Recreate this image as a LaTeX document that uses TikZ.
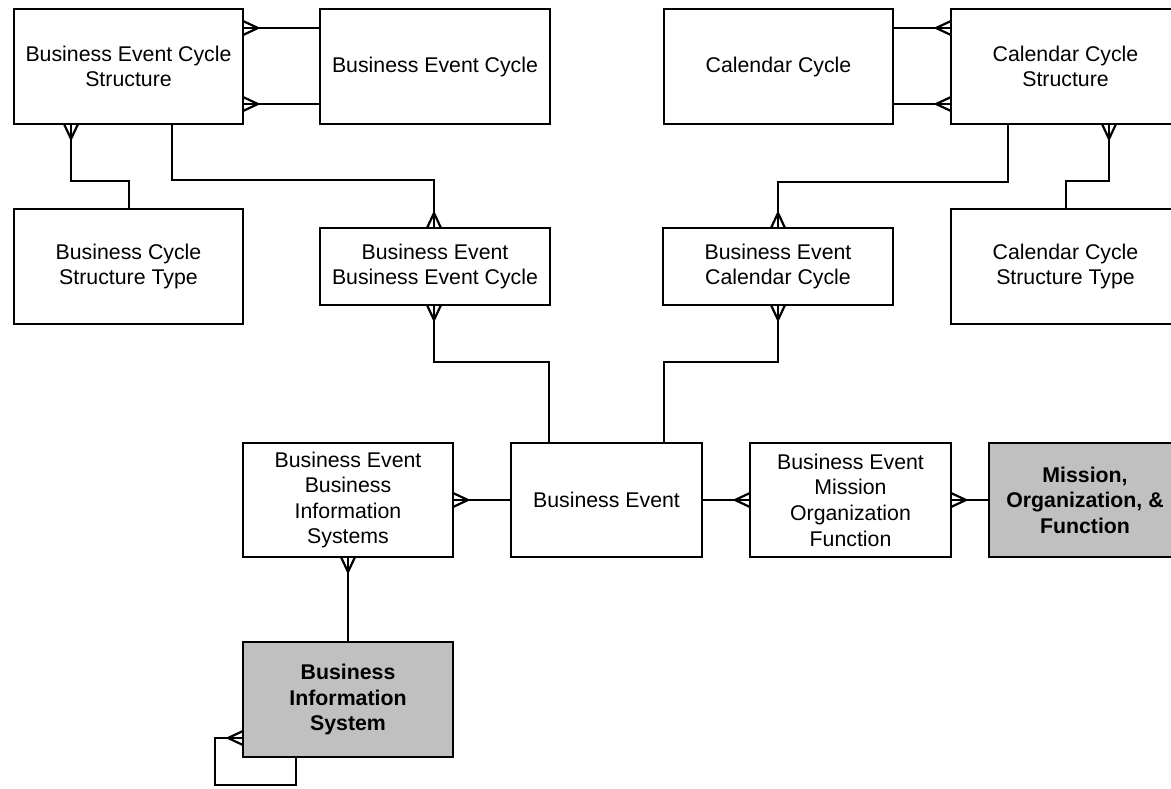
\documentclass[tikz,border=0pt]{standalone}
\usepackage{fontspec}
\setmainfont{Liberation Sans}
\usetikzlibrary{calc}

\definecolor{keyfill}{RGB}{192,192,192}

\tikzset{
  entity/.style={draw=black, line width=2.4pt, fill=white, outer sep=0pt,
    inner sep=2pt, align=center, font=\fontsize{21.3}{25.6}\selectfont},
  keyentity/.style={entity, fill=keyfill, font=\fontsize{21.3}{25.6}\selectfont\bfseries},
  conn/.style={draw=black, line width=2.4pt, line cap=rect},
  crowline/.style={draw=black, line width=2.2pt, line join=miter}
}

% crow's foot: #1 point on the entity edge, #2 direction pointing away from the entity
\newcommand\crowfoot[2]{%
  \draw[crowline, shift={#1}, rotate=#2] (0,7) -- (15,0) -- (0,-7);}

\begin{document}
\begin{tikzpicture}[x=1pt, y=-1pt]
\useasboundingbox (0,0) rectangle (1171,788);
\clip (0,0) rectangle (1171,788);

% entities
\node[entity, minimum width=229pt, minimum height=115pt] (becs) at (128.5,66.5)
  {Business Event Cycle\\Structure};
\node[entity, minimum width=230pt, minimum height=115pt] (bec) at (435,66.5)
  {Business Event Cycle};
\node[entity, minimum width=229pt, minimum height=115pt] (cal) at (778.5,66.5)
  {Calendar Cycle};
\node[entity, minimum width=229pt, minimum height=115pt] (ccs) at (1065.5,66.5)
  {Calendar Cycle\\Structure};
\node[entity, minimum width=229pt, minimum height=115pt] (bcst) at (128.5,266.5)
  {Business Cycle\\Structure Type};
\node[entity, minimum width=230pt, minimum height=77pt] (bebec) at (435,266.5)
  {Business Event\\Business Event Cycle};
\node[entity, minimum width=230pt, minimum height=77pt] (becc) at (778,266.5)
  {Business Event\\Calendar Cycle};
\node[entity, minimum width=229pt, minimum height=115pt] (ccst) at (1065.5,266.5)
  {Calendar Cycle\\Structure Type};
\node[entity, minimum width=210pt, minimum height=114pt] (bebis) at (348,500)
  {Business Event\\Business\\Information\\Systems};
\node[entity, minimum width=191pt, minimum height=114pt] (be) at (606.5,500)
  {Business Event};
\node[entity, minimum width=201pt, minimum height=114pt] (bemof) at (850.5,500)
  {Business Event\\Mission\\Organization\\Function};
\node[keyentity, minimum width=192pt, minimum height=114pt] (mof) at (1085,500)
  {Mission,\\Organization, \&\\Function};
\node[keyentity, minimum width=210pt, minimum height=115pt] (bis) at (348,699.5)
  {Business\\Information\\System};

% relationships
\draw[conn] (becs.east |- 0,28) -- (bec.west |- 0,28);
\crowfoot{(becs.east |- 0,28)}{0}
\draw[conn] (becs.east |- 0,104) -- (bec.west |- 0,104);
\crowfoot{(becs.east |- 0,104)}{0}

\draw[conn] (cal.east |- 0,28) -- (ccs.west |- 0,28);
\crowfoot{(ccs.west |- 0,28)}{180}
\draw[conn] (cal.east |- 0,104) -- (ccs.west |- 0,104);
\crowfoot{(ccs.west |- 0,104)}{180}

\draw[conn] (becs.south -| 71,0) |- (129,181) -- (bcst.north -| 129,0);
\crowfoot{(becs.south -| 71,0)}{-90}

\draw[conn] (becs.south -| 172,0) |- (434,180) -- (bebec.north -| 434,0);
\crowfoot{(bebec.north -| 434,0)}{90}

\draw[conn] (ccs.south -| 1008,0) |- (778,182) -- (becc.north -| 778,0);
\crowfoot{(becc.north -| 778,0)}{90}

\draw[conn] (ccs.south -| 1109,0) |- (1066,181) -- (ccst.north -| 1066,0);
\crowfoot{(ccs.south -| 1109,0)}{-90}

\draw[conn] (bebec.south -| 434,0) |- (549,362) -- (be.north -| 549,0);
\crowfoot{(bebec.south -| 434,0)}{-90}

\draw[conn] (becc.south -| 778,0) |- (664,362) -- (be.north -| 664,0);
\crowfoot{(becc.south -| 778,0)}{-90}

\draw[conn] (bebis.east) -- (be.west);
\crowfoot{(bebis.east)}{0}

\draw[conn] (be.east) -- (bemof.west);
\crowfoot{(bemof.west)}{180}

\draw[conn] (bemof.east) -- (mof.west);
\crowfoot{(bemof.east)}{0}

\draw[conn] (bebis.south) -- (bis.north);
\crowfoot{(bebis.south)}{-90}

\draw[conn] (bis.west |- 0,738) -- (215,738) |- (296,785) -- (bis.south -| 296,0);
\crowfoot{(bis.west |- 0,738)}{180}
\end{tikzpicture}
\end{document}
